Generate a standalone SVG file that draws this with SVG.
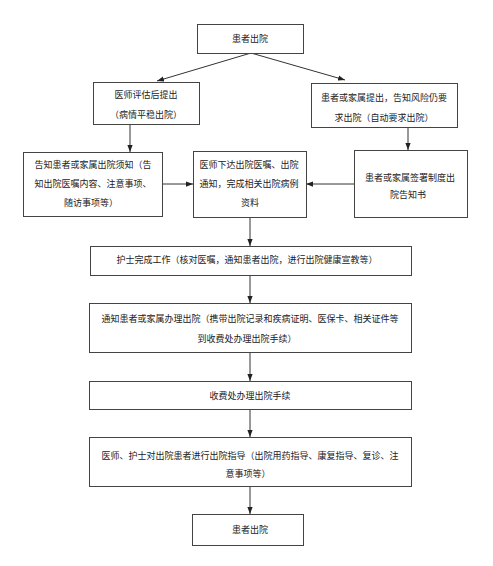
<svg xmlns="http://www.w3.org/2000/svg" width="493" height="566" viewBox="0 0 493 566">
<style>
.box{fill:#fff;stroke:#444;stroke-width:1}
.t{font-family:"Noto Sans CJK SC","Noto Sans",sans-serif;font-size:9px;fill:#222;text-anchor:middle}
.c{stroke:#333;stroke-width:1;fill:none;marker-end:url(#ah)}
</style>
<defs>
<marker id="ah" viewBox="0 0 8 6" refX="8" refY="3" markerWidth="7" markerHeight="6" markerUnits="userSpaceOnUse" orient="auto">
<path d="M0,0 L8,3 L0,6 Z" fill="#222"/>
</marker>
</defs>
<rect width="493" height="566" fill="#fff"/>
<g id="connectors">
<path class="c" d="M251,53 L157,81"/>
<path class="c" d="M251,53 L345,80"/>
<path class="c" d="M130,124 L130,152"/>
<path class="c" d="M408,127 L408,150"/>
<path class="c" d="M162,184 L193,184"/>
<path class="c" d="M354,184 L306,184"/>
<path class="c" d="M250,217 L250,246"/>
<path class="c" d="M250,275 L250,303"/>
<path class="c" d="M250,352 L250,381"/>
<path class="c" d="M250,409 L250,437"/>
<path class="c" d="M250,487 L250,514"/>
</g>
<g id="n1"><rect class="box" x="197.5" y="24.5" width="106" height="29"/><text class="t" x="250" y="42">患者出院</text></g>
<g id="n2"><rect class="box" x="93.5" y="82.5" width="106" height="42"/><text class="t" x="146" y="98">医师评估后提出</text><text class="t" x="146" y="118">（病情平稳出院）</text></g>
<g id="n3"><rect class="box" x="311.5" y="83.5" width="146" height="44"/><text class="t" x="384" y="101">患者或家属提出，告知风险仍要</text><text class="t" x="384" y="121">求出院（自动要求出院）</text></g>
<g id="n4"><rect class="box" x="23.5" y="152.5" width="139" height="64"/><text class="t" x="93" y="168">告知患者或家属出院须知（告</text><text class="t" x="93" y="187">知出院医嘱内容、注意事项、</text><text class="t" x="91" y="206">随访事项等）</text></g>
<g id="n5"><rect class="box" x="193.5" y="151.5" width="113" height="66"/><text class="t" x="249" y="168">医师下达出院医嘱、出院</text><text class="t" x="249" y="187">通知，完成相关出院病例</text><text class="t" x="250" y="206">资料</text></g>
<g id="n6"><rect class="box" x="354.5" y="150.5" width="113" height="67"/><text class="t" x="410" y="181">患者或家属签署制度出</text><text class="t" x="408" y="198">院告知书</text></g>
<g id="n7"><rect class="box" x="90.5" y="246.5" width="321" height="29"/><text class="t" x="247" y="263">护士完成工作（核对医嘱，通知患者出院，进行出院健康宣教等）</text></g>
<g id="n8"><rect class="box" x="89.5" y="303.5" width="322" height="49"/><text class="t" x="250" y="321.5">通知患者或家属办理出院（携带出院记录和疾病证明、医保卡、相关证件等</text><text class="t" x="247" y="341.5">到收费处办理出院手续）</text></g>
<g id="n9"><rect class="box" x="89.5" y="381.5" width="322" height="28"/><text class="t" x="250" y="399">收费处办理出院手续</text></g>
<g id="n10"><rect class="box" x="89.5" y="437.5" width="322" height="49"/><text class="t" x="250" y="458.5">医师、护士对出院患者进行出院指导（出院用药指导、康复指导、复诊、注</text><text class="t" x="248" y="476.5">意事项等）</text></g>
<g id="n11"><rect class="box" x="192.5" y="514.5" width="111" height="31"/><text class="t" x="250" y="533">患者出院</text></g>
</svg>
